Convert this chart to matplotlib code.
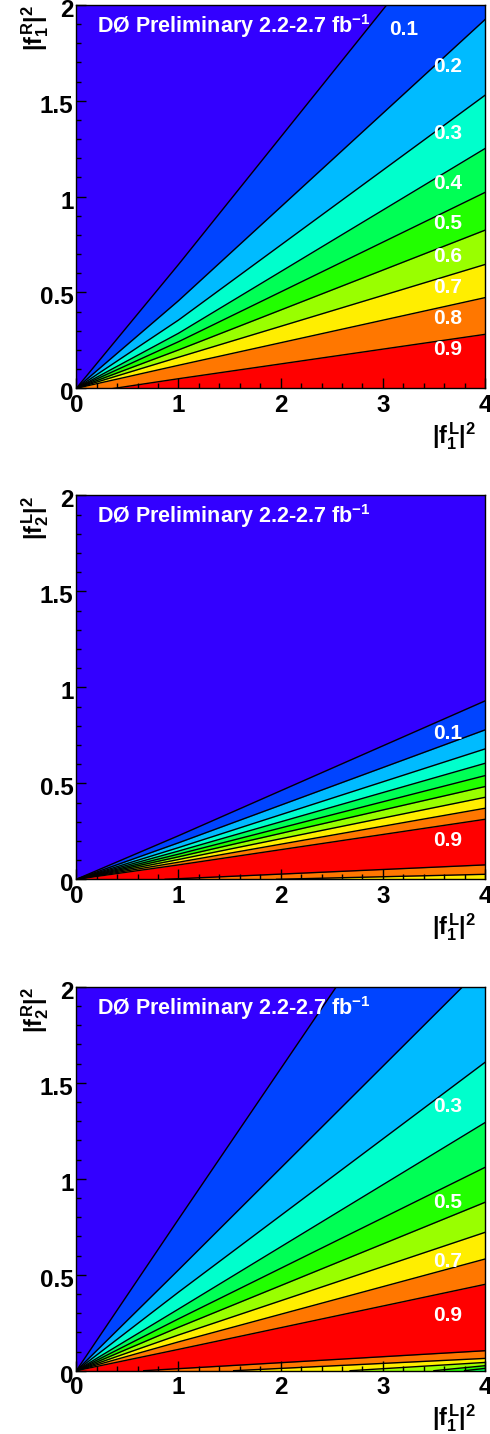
import numpy as np
import matplotlib.pyplot as plt
from matplotlib.ticker import MultipleLocator
from matplotlib.transforms import ScaledTranslation

plt.rcParams['font.family'] = ['Liberation Sans', 'DejaVu Sans']
plt.rcParams['font.weight'] = 'bold'
plt.rcParams['mathtext.fontset'] = 'custom'
plt.rcParams['mathtext.rm'] = 'Liberation Sans:bold'
plt.rcParams['mathtext.it'] = 'Liberation Sans:bold'
plt.rcParams['mathtext.bf'] = 'Liberation Sans:bold'

# colours of the ten bands, 0.0-0.1 ... 0.9-1.0
band_colors = ['#3300ff', '#0044ff', '#00bbff', '#00ffcc', '#00ff55',
               '#22ff00', '#99ff00', '#ffee00', '#ff7700', '#ff0000']

# contour lines read at x = 0, 1, 4 (levels 0.1 ... 0.9, top to bottom)
x_pts = [0, 1, 4]

p1_lines = [[0, 0.646, 2.64], [0, 0.457, 1.924], [0, 0.356, 1.529],
            [0, 0.287, 1.251], [0, 0.243, 1.022], [0, 0.200, 0.825],
            [0, 0.162, 0.646], [0, 0.120, 0.473], [-0.03, 0.050, 0.2815]]
p2_lines = [[0, 0.227, 0.929], [0, 0.190, 0.778], [0, 0.165, 0.679],
            [0, 0.147, 0.604], [0, 0.131, 0.540], [0, 0.117, 0.483],
            [0, 0.103, 0.427], [0, 0.089, 0.370], [0, 0.075, 0.3125]]
p3_lines = [[0, 0.789, 3.14], [0, 0.525, 2.116], [0, 0.409, 1.606],
            [0, 0.321, 1.292], [0, 0.270, 1.059], [0, 0.226, 0.877],
            [0, 0.186, 0.7205], [0, 0.150, 0.5816], [0, 0.111, 0.4497]]

# lines where the value falls again near the x axis: (x start, x end), (y start, y end), band below
p1_low = []
p2_low = [([0.87, 4], [0.0, 0.075], 8), ([1.96, 4], [0.0, 0.026], 7)]
p3_low = [([0.66, 4], [0.0, 0.104], 8), ([1.54, 4], [0.0, 0.064], 7),
          ([2.68, 4], [0.0, 0.043], 6), ([3.5, 4], [0.0, 0.026], 5),
          ([3.8, 4], [0.0, 0.012], 4)]

# level labels
p1_lab = (['0.1', '0.2', '0.3', '0.4', '0.5', '0.6', '0.7', '0.8', '0.9'],
          [3.20, 3.63, 3.63, 3.63, 3.63, 3.63, 3.63, 3.63, 3.63],
          [1.87, 1.677, 1.33, 1.069, 0.86, 0.686, 0.527, 0.365, 0.20])
p2_lab = (['0.1', '0.9'], [3.63, 3.63], [0.758, 0.201])
p3_lab = (['0.3', '0.5', '0.7', '0.9'], [3.63, 3.63, 3.63, 3.63],
          [1.376, 0.876, 0.568, 0.29])

ylabels = [r'$|f^{R}_{1}|^{2}$', r'$|f^{L}_{2}|^{2}$', r'$|f^{R}_{2}|^{2}$']
xlabel = r'$|f^{L}_{1}|^{2}$'
title = r'DØ Preliminary 2.2-2.7 fb$^{-1}$'

# pixel frame of each panel (top, bottom) in a 490x1434 figure
tops = [5, 495.3, 986.7]
bottoms = [388.3, 879.3, 1370.7]

W, H = 490, 1434
fig = plt.figure(figsize=(W / 100, H / 100), dpi=100)

panels = [(p1_lines, p1_low, p1_lab), (p2_lines, p2_low, p2_lab), (p3_lines, p3_low, p3_lab)]

for i, (lines, low, lab) in enumerate(panels):
    ax = fig.add_axes([76.3 / W, 1 - bottoms[i] / H, (485 - 76.3) / W,
                       (bottoms[i] - tops[i]) / H])
    ax.set_facecolor(band_colors[0])
    for k, ln in enumerate(lines):
        ax.fill_between(x_pts, 0, ln, color=band_colors[k + 1], lw=0)
    for xs, ys, c in low:
        ax.fill_between(xs, 0, ys, color=band_colors[c], lw=0)
    for ln in lines:
        ax.plot(x_pts, ln, color='black', lw=1)
    for xs, ys, c in low:
        ax.plot(xs, ys, color='black', lw=1)

    for t, lx, ly in zip(*lab):
        ax.text(lx, ly, t, color='white', fontsize=15, fontweight='bold',
                ha='center', va='center')

    ax.text(0.05, 0.945, title, transform=ax.transAxes, color='white',
            fontsize=15.5, fontweight='bold', ha='left', va='center')

    ax.set_xlim(0, 4)
    ax.set_ylim(0, 2)
    ax.xaxis.set_major_locator(MultipleLocator(1))
    ax.xaxis.set_minor_locator(MultipleLocator(0.2))
    ax.yaxis.set_major_locator(MultipleLocator(0.5))
    ax.yaxis.set_minor_locator(MultipleLocator(0.1))
    ax.xaxis.set_major_formatter(plt.FuncFormatter(lambda v, p: '%g' % v))
    ax.yaxis.set_major_formatter(plt.FuncFormatter(lambda v, p: '%g' % v))
    ax.tick_params(which='both', direction='in', top=False, right=False,
                   labelsize=17.5, width=1)
    ax.tick_params(which='major', length=7.5)
    ax.tick_params(which='minor', length=3.8)
    ax.tick_params(axis='x', pad=4)
    ax.tick_params(axis='y', pad=2)
    for lbl in ax.get_xticklabels() + ax.get_yticklabels():
        lbl.set_fontweight('bold')
    # ROOT puts the y labels a few pixels low, the top one even lower
    ylbls = ax.get_yticklabels()
    for j, lbl in enumerate(ylbls):
        dy = 0.07 if (j == len(ylbls) - 1 and i == 0) else 0.03
        lbl.set_transform(lbl.get_transform() + ScaledTranslation(0, -dy, fig.dpi_scale_trans))
    for s in ax.spines.values():
        s.set_linewidth(1)

    ax.text(-0.1, 1.0, ylabels[i], transform=ax.transAxes, rotation=90,
            fontsize=17, ha='center', va='top')
    ax.text(0.98, -0.083, xlabel, transform=ax.transAxes,
            fontsize=17, ha='right', va='top')

fig.savefig('out.png', dpi=100)
